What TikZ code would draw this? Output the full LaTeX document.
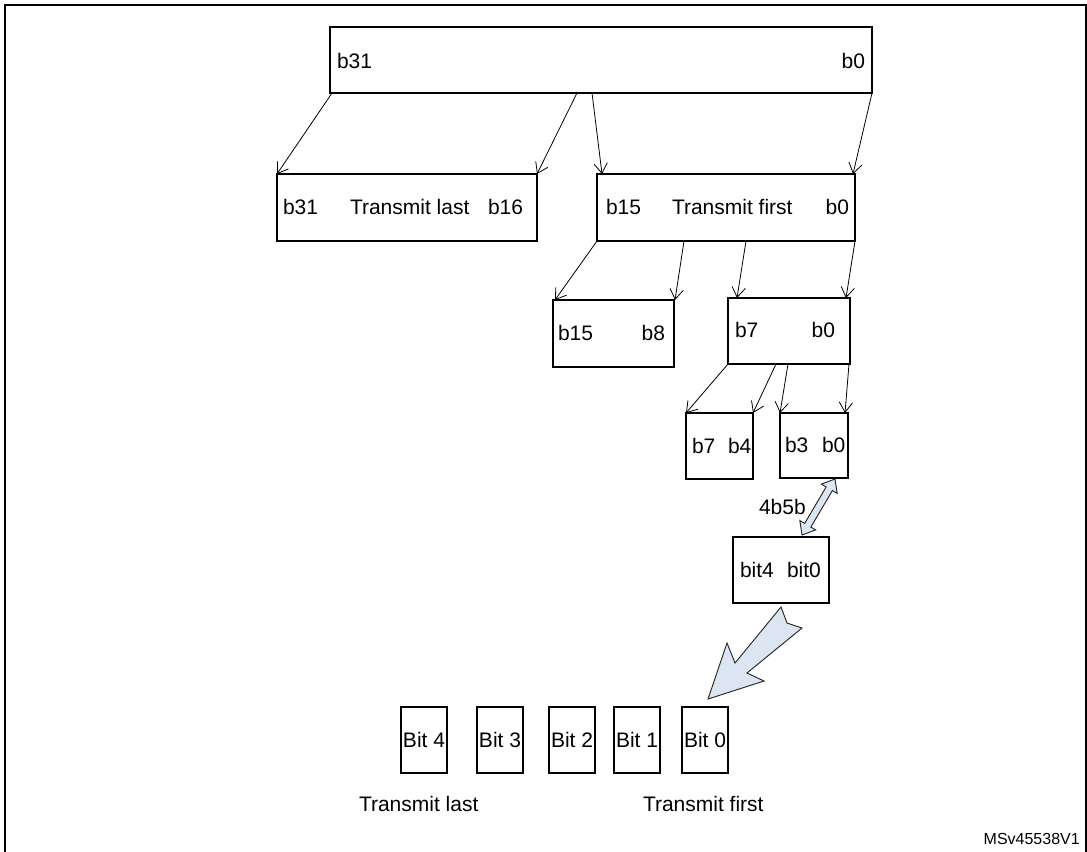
\documentclass[tikz,border=0pt]{standalone}
\usepackage{fontspec}
\setmainfont{Liberation Sans}
\usetikzlibrary{arrows.meta,calc}
\definecolor{arrowfill}{HTML}{DCE5F2}
\begin{document}
\begin{tikzpicture}[x=0.75pt,y=-0.75pt,
  box/.style={draw=black, line width=1.5pt, inner sep=0pt, outer sep=0pt, font=\fontsize{15.75}{18}\selectfont},
  lbl/.style={inner sep=0pt, outer sep=0pt, font=\fontsize{15.75}{18}\selectfont},
  arr/.style={-{Straight Barb[length=7.5pt,width=10pt]}, line width=0.6pt},
  fatarrow/.style={draw=black!85, line width=0.7pt, fill=arrowfill, line join=miter}]
\useasboundingbox (0,0) rectangle (1087,851);
\clip (0,0) rectangle (1087,851);
% frame
\draw[line width=1.6pt] (5,880) -- (5,5) -- (1086,5) -- (1086,880);

% boxes
\node[box, minimum width=406.5pt, minimum height=49.5pt] (top) at (601,60) {};
\node[box, minimum width=195pt, minimum height=50.25pt] (L) at (407,207.5) {};
\node[box, minimum width=193.5pt, minimum height=50.25pt] (R) at (726,207.5) {};
\node[box, minimum width=90.75pt, minimum height=50.25pt] (hb) at (613.5,333.5) {};
\node[box, minimum width=91.5pt, minimum height=49.5pt] (lb) at (789,331) {};
\node[box, minimum width=50.25pt, minimum height=49.5pt] (hn) at (719.5,446) {};
\node[box, minimum width=51pt, minimum height=48.75pt] (ln) at (814,445.5) {};
\node[box, minimum width=72pt, minimum height=49.5pt] (fb) at (781,570) {};
\node[box, minimum width=34.5pt, minimum height=49.5pt] (B4) at (424,740) {Bit 4};
\node[box, minimum width=34.5pt, minimum height=49.5pt] (B3) at (500,740) {Bit 3};
\node[box, minimum width=34.5pt, minimum height=49.5pt] (B2) at (572,740) {Bit 2};
\node[box, minimum width=34.5pt, minimum height=49.5pt] (B1) at (637,740) {Bit 1};
\node[box, minimum width=34.5pt, minimum height=49.5pt] (B0) at (705,740) {Bit 0};

% texts
\node[lbl, anchor=west] (t1) at (337,61) {b31};
\node[lbl, anchor=east] (t2) at (865,61) {b0};
\node[lbl, anchor=west] (t3) at (283,207) {b31};
\node[lbl, anchor=west] (t4) at (350,207) {Transmit last};
\node[lbl, anchor=west] (t5) at (488,207) {b16};
\node[lbl, anchor=west] (t6) at (606,207) {b15};
\node[lbl, anchor=west] (t7) at (672,207) {Transmit first};
\node[lbl, anchor=east] (t8) at (849,207) {b0};
\node[lbl, anchor=west] (t9) at (558,333) {b15};
\node[lbl, anchor=east] (t10) at (665,333) {b8};
\node[lbl, anchor=west] (t11) at (735,330) {b7};
\node[lbl, anchor=east] (t12) at (835,330) {b0};
\node[lbl, anchor=west] (t13) at (692,446) {b7};
\node[lbl, anchor=west] (t14) at (728,446) {b4};
\node[lbl, anchor=west] (t15) at (785,445) {b3};
\node[lbl, anchor=west] (t16) at (822,445) {b0};
\node[lbl, anchor=west] (t17) at (740,570) {bit4};
\node[lbl, anchor=west] (t18) at (787,570) {bit0};
\node[lbl, anchor=west] (t19) at (759,507) {4b5b};
\node[lbl, anchor=west] (t20) at (359,804) {Transmit last};
\node[lbl, anchor=west] (t21) at (643,804) {Transmit first};
\node[inner sep=0pt, font=\fontsize{12}{14}\selectfont, anchor=east] (id) at (1080,839) {MSv45538V1};

% connectors level 1
\draw[arr] ($(top.south west)+(2,0)$) -- (L.north west);
\draw[arr] ($(top.south west)+(247,0)$) -- (L.north east);
\draw[arr] ($(top.south west)+(262,0)$) -- ($(R.north west)+(5,0)$);
\draw[arr] (top.south east) -- ($(R.north east)+(-2,0)$);
% level 2
\draw[arr] (R.south west) -- ($(hb.north west)+(2,0)$);
\draw[arr] ($(R.south west)+(87,0)$) -- ($(hb.north east)+(1,0)$);
\draw[arr] ($(R.south west)+(149,0)$) -- ($(lb.north west)+(9,0)$);
\draw[arr] (R.south east) -- ($(lb.north east)+(-4,0)$);
% level 3
\draw[arr] (lb.south west) -- (hn.north west);
\draw[arr] ($(lb.south west)+(48,0)$) -- (hn.north east);
\draw[arr] ($(lb.south west)+(60,0)$) -- (ln.north west);
\draw[arr] ($(lb.south east)+(-1,0)$) -- ($(ln.north east)+(-3,0)$);

% 4b5b double arrow
\coordinate (Q) at ($(ln.south east)+(-13,1)$);
\coordinate (P) at ($(fb.north east)+(-27,-2)$);
\coordinate (Pb) at ($(P)!8.5pt!(Q)$);
\coordinate (Qb) at ($(Q)!8.5pt!(P)$);
\draw[fatarrow] (P) -- ($(Pb)!6.9pt!90:(Q)$) -- ($(Pb)!2.7pt!90:(Q)$) -- ($(Qb)!2.7pt!-90:(P)$)
  -- ($(Qb)!6.9pt!-90:(P)$) -- (Q) -- ($(Qb)!6.9pt!90:(P)$) -- ($(Qb)!2.7pt!90:(P)$)
  -- ($(Pb)!2.7pt!-90:(Q)$) -- ($(Pb)!6.9pt!-90:(Q)$) -- cycle;

% big transmit arrow
\draw[fatarrow] (781,607) -- (735,663) -- (727,643) -- (708,699) -- (764,681)
  -- (747,673) -- (802,628) -- (787,623) -- cycle;
\end{tikzpicture}
\end{document}
